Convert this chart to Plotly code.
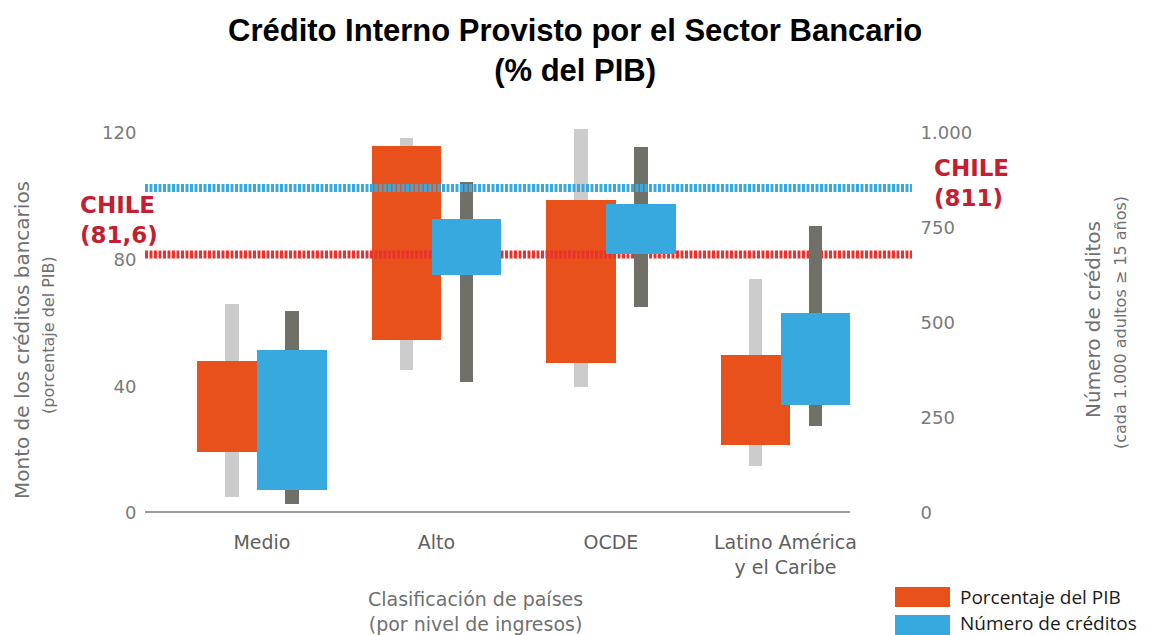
import plotly.graph_objects as go

# ---------------- data ----------------
categories = ["Medio", "Alto", "OCDE", "Latino América<br>y el Caribe"]
pib_box_low = [19.4, 54.6, 47.5, 21.5]
pib_box_high = [47.9, 115.7, 98.8, 49.9]
pib_range_low = [5.1, 45.2, 39.7, 14.8]
pib_range_high = [65.9, 118.3, 121.2, 74.0]
cred_box_low = [60, 625, 682, 283]
cred_box_high = [429, 774, 813, 527]
cred_range_low = [25, 345, 543, 229]
cred_range_high = [532, 870, 964, 755]
chile_pib = 81.6
chile_pib_label = "(81,6)"
chile_creditos_level = 855
chile_creditos_label = "(811)"
left_ticks = [0, 40, 80, 120]
right_ticks = [0, 250, 500, 750, 1000]

# ---------------- layout geometry (page pixels; page body has an 8px margin) ----------------
OFF = 8
W, H = 1149 - OFF, 635 - OFF
L, R, T, B = 145, 912, 117, 513          # plot area in page pixels
PW, PH = R - L, B - T
def px(x):
    return (x - L) / PW
def py(y):
    return (B - y) / PH

idx = list(range(len(categories)))
cat_px = 174.5
x_min = -0.67
x_max = x_min + PW / cat_px
y_max = 125
y2_max = y_max / 120 * 1000

ORANGE = "#E8501C"
BLUE = "#38A9DF"
LGRAY = "#CCCCCC"
DGRAY = "#707068"
RED = "#E8332F"
CRIMSON = "#C41E32"
TXT = "#707070"
FONT = "DejaVu Sans, sans-serif"

box_w = 0.40
whisk_w = 0.078
off = 0.172

fig = go.Figure()

def span(lo, hi):
    return [h - l for l, h in zip(lo, hi)]

fig.add_trace(go.Bar(x=idx, y=span(pib_range_low, pib_range_high), base=pib_range_low,
                     width=whisk_w, offset=-off - whisk_w / 2, marker=dict(color=LGRAY, line=dict(width=0)),
                     yaxis="y", showlegend=False, hoverinfo="skip"))
fig.add_trace(go.Bar(x=idx, y=span(pib_box_low, pib_box_high), base=pib_box_low,
                     width=box_w, offset=-off - box_w / 2, marker=dict(color=ORANGE, line=dict(width=0)),
                     yaxis="y", name="Porcentaje del PIB", showlegend=False))
fig.add_trace(go.Scatter(x=[x_min, x_max], y=[chile_pib, chile_pib], mode="lines",
                         line=dict(color=RED, width=8, dash="3px,1.5px"), yaxis="y",
                         showlegend=False, hoverinfo="skip"))
fig.add_trace(go.Bar(x=idx, y=span(cred_range_low, cred_range_high), base=cred_range_low,
                     width=whisk_w, offset=off - whisk_w / 2, marker=dict(color=DGRAY, line=dict(width=0)),
                     yaxis="y2", showlegend=False, hoverinfo="skip"))
fig.add_trace(go.Bar(x=idx, y=span(cred_box_low, cred_box_high), base=cred_box_low,
                     width=box_w, offset=off - box_w / 2, marker=dict(color=BLUE, line=dict(width=0)),
                     yaxis="y2", name="Número de créditos", showlegend=False))
fig.add_trace(go.Scatter(x=[x_min, x_max], y=[chile_creditos_level, chile_creditos_level], mode="lines",
                         line=dict(color=BLUE, width=8, dash="3px,1.5px"), yaxis="y2",
                         showlegend=False, hoverinfo="skip"))

annotations = [
    dict(x=px(575), y=py(50), text="<b>Crédito Interno Provisto por el Sector Bancario<br>(% del PIB)</b>",
         font=dict(size=31, color="#000000",
                   family="Liberation Sans Narrow, Arial Narrow, Liberation Sans, sans-serif")),
    dict(x=px(22), y=py(340), text="Monto de los créditos bancarios", textangle=-90,
         font=dict(size=20, color=TXT, family=FONT)),
    dict(x=px(48), y=py(335), text="(porcentaje del PIB)", textangle=-90,
         font=dict(size=16, color=TXT, family=FONT)),
    dict(x=px(1093), y=py(320), text="Número de créditos", textangle=-90,
         font=dict(size=20, color=TXT, family=FONT)),
    dict(x=px(1120), y=py(323), text="(cada 1.000 adultos ≥ 15 años)", textangle=-90,
         font=dict(size=16, color=TXT, family=FONT)),
    dict(x=px(475), y=py(611), text="Clasificación de países<br>(por nivel de ingresos)",
         font=dict(size=19, color=TXT, family=FONT)),
    dict(x=px(78), y=py(220), xanchor="left", align="left", text="<b>CHILE<br>" + chile_pib_label + "</b>",
         font=dict(size=23, color=CRIMSON, family="DejaVu Sans, sans-serif")),
    dict(x=px(932), y=py(183), xanchor="left", align="left", text="<b>CHILE<br>" + chile_creditos_label + "</b>",
         font=dict(size=23, color=CRIMSON, family="DejaVu Sans, sans-serif")),
    dict(x=px(958), y=py(597), xanchor="left", text="Porcentaje del PIB",
         font=dict(size=19, color="#1a1a1a", family="Open Sans, sans-serif")),
    dict(x=px(958), y=py(623), xanchor="left", text="Número de créditos",
         font=dict(size=19, color="#1a1a1a", family="Open Sans, sans-serif")),
]
for a in annotations:
    a.update(xref="paper", yref="paper", showarrow=False)
    a.setdefault("xanchor", "center")
    a.setdefault("yanchor", "middle")

shapes = [
    dict(type="line", xref="paper", yref="y", x0=0, x1=px(850), y0=0, y1=0,
         line=dict(color="#9B9B9B", width=4)),
    dict(type="rect", xref="paper", yref="paper", x0=px(895), x1=px(950), y0=py(607), y1=py(587),
         fillcolor=ORANGE, line=dict(width=0)),
    dict(type="rect", xref="paper", yref="paper", x0=px(895), x1=px(950), y0=py(640), y1=py(615),
         fillcolor=BLUE, line=dict(width=0)),
]

fig.update_layout(
    width=W, height=H,
    margin=dict(l=L - OFF, r=W - (R - OFF), t=T - OFF, b=H - (B - OFF)),
    paper_bgcolor="white", plot_bgcolor="white",
    barmode="overlay", bargap=0,
    separators=",.",
    xaxis=dict(range=[x_min, x_max], tickvals=idx, ticktext=categories,
               showgrid=False, zeroline=False, showline=False,
               ticks="outside", ticklen=12, tickcolor="rgba(0,0,0,0)",
               tickfont=dict(size=19, color="#606060", family=FONT)),
    yaxis=dict(range=[0, y_max], tickvals=left_ticks, showgrid=False, zeroline=False, showline=False,
               ticks="outside", ticklen=4, tickcolor="rgba(0,0,0,0)",
               tickfont=dict(size=18, color="#7a7a7a", family=FONT)),
    yaxis2=dict(range=[0, y2_max], tickvals=right_ticks, tickformat=",", overlaying="y", side="right",
                anchor="free", position=1.0,
                showgrid=False, zeroline=False, showline=False,
                ticks="outside", ticklen=4, tickcolor="rgba(0,0,0,0)",
                tickfont=dict(size=18, color="#7a7a7a", family=FONT)),
    annotations=annotations,
    shapes=shapes,
)

fig.write_html("out.html")
